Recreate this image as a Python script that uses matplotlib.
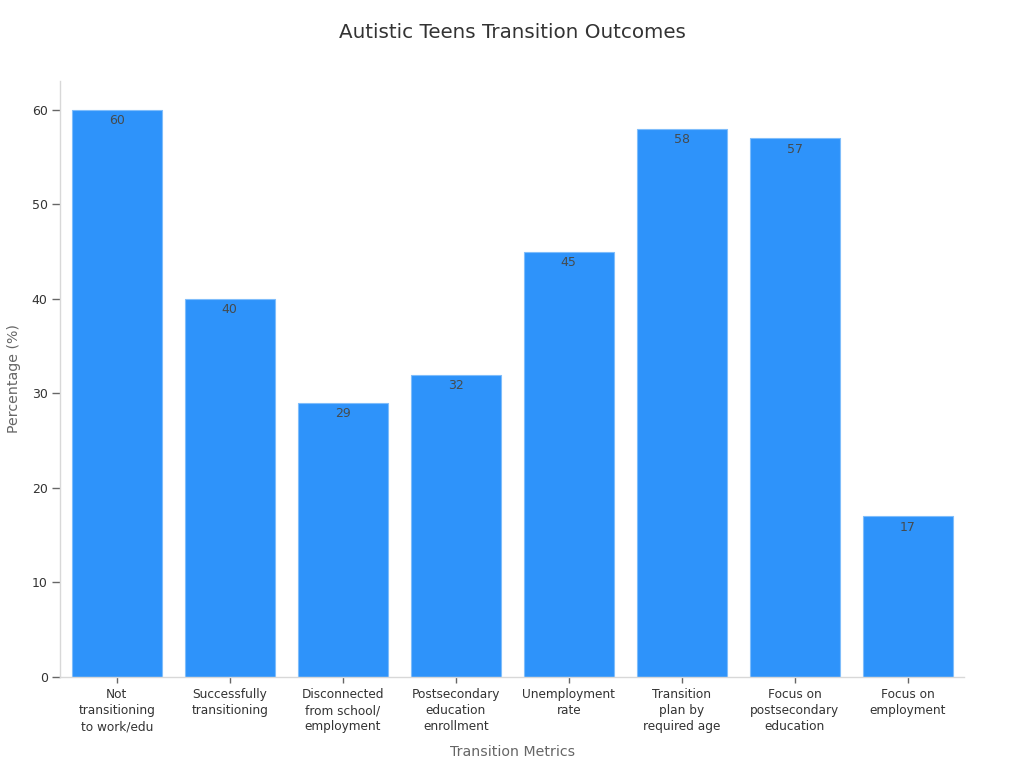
import matplotlib
matplotlib.use("Agg")
import matplotlib.pyplot as plt

categories = [
    "Not\ntransitioning\nto work/edu",
    "Successfully\ntransitioning",
    "Disconnected\nfrom school/\nemployment",
    "Postsecondary\neducation\nenrollment",
    "Unemployment\nrate",
    "Transition\nplan by\nrequired age",
    "Focus on\npostsecondary\neducation",
    "Focus on\nemployment",
]
values = [60, 40, 29, 32, 45, 58, 57, 17]
y_ticks = [0, 10, 20, 30, 40, 50, 60]

plt.rcParams["font.family"] = "DejaVu Sans"

fig = plt.figure(figsize=(10.24, 7.68), dpi=100)
ax = fig.add_axes([60.2 / 1024, 1 - 677 / 768, 904 / 1024, 596 / 768])

positions = list(range(len(categories)))
bars = ax.bar(positions, values, width=0.795, color="#2e93fa", edgecolor="#7fbdfb", linewidth=0.8)

# value labels sit just inside the top of each bar
for bar, value in zip(bars, values):
    ax.annotate(
        str(value),
        (bar.get_x() + bar.get_width() / 2, value),
        xytext=(0, -11),
        textcoords="offset pixels",
        ha="center",
        va="center",
        fontsize=9,
        color="#454b4e",
    )

ax.set_xlim(-0.5, 7.5)
ax.set_ylim(0, 63.05)
ax.set_xticks(positions)
ax.set_xticklabels(categories, fontsize=8.75, color="#333333", linespacing=1.3)
ax.set_yticks(y_ticks)
ax.tick_params(axis="y", labelsize=9, labelcolor="#333333", color="#666666", length=6, width=1, pad=3)
ax.tick_params(axis="x", color="#666666", length=4, width=1, pad=4)

for side in ["top", "right"]:
    ax.spines[side].set_visible(False)
for side in ["left", "bottom"]:
    ax.spines[side].set_color("#d8d8d8")
    ax.spines[side].set_linewidth(1)

fig.text(512 / 1024, 1 - 33 / 768, "Autistic Teens Transition Outcomes", ha="center", va="center", fontsize=14.3, color="#333333")
fig.text(513 / 1024, 1 - 751.5 / 768, "Transition Metrics", ha="center", va="center", fontsize=10.15, color="#666666")
fig.text(14 / 1024, 1 - 379 / 768, "Percentage (%)", ha="center", va="center", rotation=90, fontsize=10.15, color="#666666")

plt.savefig("out.png", dpi=100)
